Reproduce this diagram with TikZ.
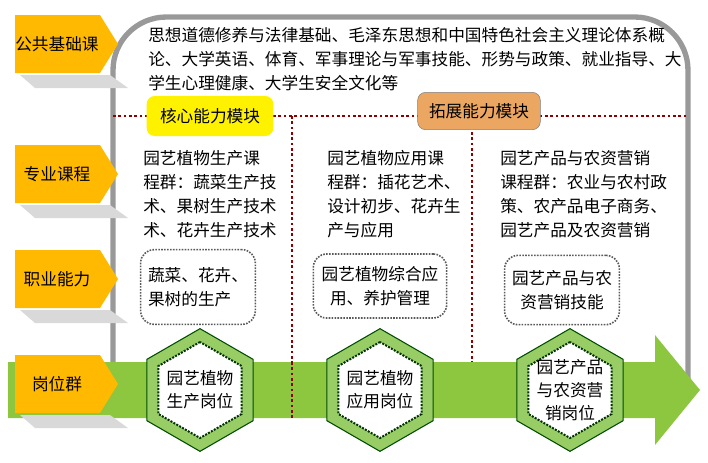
\documentclass[tikz,border=0pt]{standalone}
\usepackage{fontspec}
\setmainfont{Noto Sans CJK SC}
\usetikzlibrary{shapes.geometric}
\begin{document}
\begin{tikzpicture}[x=0.75pt,y=-0.75pt,
  txt/.style={anchor=north west,align=left,font=\fontsize{12.5}{18}\selectfont,inner sep=0pt},
  dotbox/.style={draw=gray!70!black,densely dotted,line width=1.2pt,rounded corners=10pt,fill=white},
  hexo/.style={regular polygon,regular polygon sides=6,shape border rotate=30,minimum size=92pt,inner sep=0pt,fill=green!35!olive!60!white,draw=green!30!black,line width=0.8pt},
  hexi/.style={regular polygon,regular polygon sides=6,shape border rotate=30,minimum size=72pt,inner sep=0pt,fill=white,draw=green!20!black,densely dotted,line width=1.5pt},
  red/.style={draw=red!55!black,dotted,line width=2pt}]
\useasboundingbox (0,0) rectangle (708,462);
\definecolor{org}{HTML}{FFB900}
\definecolor{grn}{HTML}{8DC63F}
% frame
\draw[gray!80,line width=4pt,rounded corners=40pt] (113,380) -- (113,17) -- (688,17) -- (688,380);
% red dotted lines
\draw[red] (113,116) -- (688,116);
\draw[red] (292,116) -- (292,372);
\draw[red] (472,116) -- (472,362);
% green arrow
\fill[grn] (8,362) -- (655,362) -- (655,335) -- (700,390) -- (655,445) -- (655,418) -- (8,418) -- cycle;
\draw[red] (292,362) -- (292,418);
% shadows and labels
\foreach \y/\t in {15/公共基础课,145/专业课程,250/职业能力,355/岗位群}{
  \fill[gray!30] (20,\y+60) -- (110,\y+60) -- (128,\y+73) -- (35,\y+73) -- cycle;
  \fill[org] (15,\y) -- (100,\y) -- (118,\y+29) -- (100,\y+58) -- (15,\y+58) -- cycle;
  \node[font=\fontsize{12.5}{15}\selectfont] at (57,\y+29) {\t};
}
% modules
\node[fill=yellow,rounded corners=6pt,minimum width=95pt,minimum height=30pt,font=\fontsize{12.5}{15}\selectfont] (m1) at (210,116) {核心能力模块};
\node[fill=orange!55!brown!70!white,draw=gray,rounded corners=6pt,minimum width=92pt,minimum height=28pt,font=\fontsize{12.5}{15}\selectfont] (m2) at (479,111) {拓展能力模块};
% texts
\node[txt] (t0) at (148,27) {思想道德修养与法律基础、毛泽东思想和中国特色社会主义理论体系概\\论、大学英语、体育、军事理论与军事技能、形势与政策、就业指导、大\\学生心理健康、大学生安全文化等};
\node[txt] (c1) at (143,150) {园艺植物生产课\\程群：蔬菜生产技\\术、果树生产技术\\术、花卉生产技术};
\node[txt] (c2) at (327,150) {园艺植物应用课\\程群：插花艺术、\\设计初步、花卉生\\产与应用};
\node[txt] (c3) at (500,150) {园艺产品与农资营销\\课程群：农业与农村政\\策、农产品电子商务、\\园艺产品及农资营销};
% dotted boxes
\node[dotbox,minimum width=86pt,minimum height=56pt,align=left,font=\fontsize{12.5}{18}\selectfont] (d1) at (198,287) {蔬菜、花卉、\\果树的生产};
\node[dotbox,minimum width=100pt,minimum height=48pt,align=center,font=\fontsize{12.5}{18}\selectfont] (d2) at (380,286) {园艺植物综合应\\用、养护管理};
\node[dotbox,minimum width=86pt,minimum height=52pt,align=center,font=\fontsize{12.5}{18}\selectfont] (d3) at (562,290) {园艺产品与农\\资营销技能};
% hexagons
\foreach \x/\n/\t in {200/h1/{园艺植物\\生产岗位},380/h2/{园艺植物\\应用岗位},570/h3/{园艺产品\\与农资营\\销岗位}}{
  \node[hexo] at (\x,390) {};
  \node[hexi] (\n) at (\x,390) {};
  \node[align=center,font=\fontsize{12.5}{17}\selectfont] at (\n) {\t};
}
\end{tikzpicture}
\end{document}
